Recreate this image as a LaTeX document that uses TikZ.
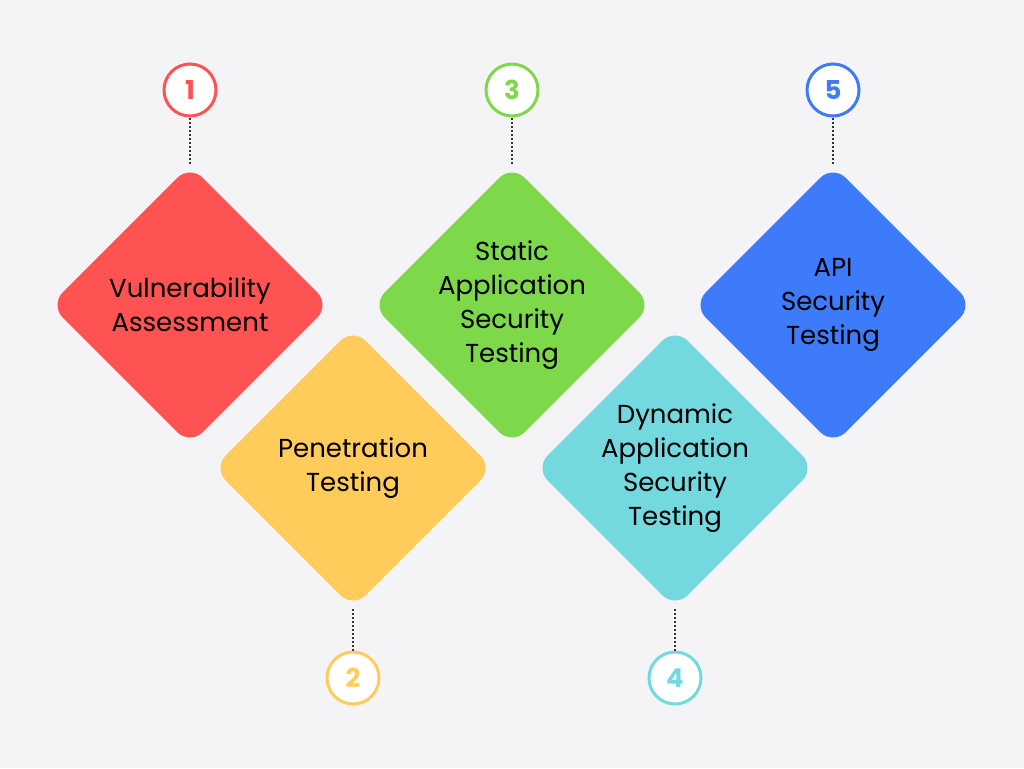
\documentclass[tikz,border=0pt]{standalone}
\usepackage{fontspec}
\setmainfont{Poppins}
\usetikzlibrary{shapes.geometric}
\definecolor{bgc}{HTML}{F4F4F6}
\definecolor{cred}{HTML}{FF5252}
\definecolor{cyel}{HTML}{FFCC5C}
\definecolor{cgrn}{HTML}{7ED94A}
\definecolor{ccyn}{HTML}{73D9DF}
\definecolor{cblu}{HTML}{3D7BFA}
\tikzset{
  tile/.style={diamond, fill=#1, draw=none, inner sep=0pt, minimum width=280pt, minimum height=280pt, rounded corners=18pt},
  label/.style={align=center, font=\fontsize{26}{34}\selectfont, text=black},
  num/.style={circle, draw=#1, line width=3pt, fill=white, minimum size=52pt, inner sep=0pt, text=#1, font=\fontsize{26}{30}\selectfont\bfseries},
  link/.style={dotted, line width=2pt, black!80}
}
\begin{document}
\begin{tikzpicture}[x=1pt,y=-1pt]
\fill [bgc] (0,0) rectangle (1024,768);
\useasboundingbox (0,0) rectangle (1024,768);
% tiles
\node [tile=cred] (va) at (190,305) {};
\node [tile=cyel] (pt) at (353,468) {};
\node [tile=cgrn] (sa) at (512,305) {};
\node [tile=ccyn] (da) at (675,468) {};
\node [tile=cblu] (api) at (833,305) {};
\node [label] (la) at (va) {Vulnerability\\Assessment};
\node [label] (lb) at (pt) {Penetration\\Testing};
\node [label] (lc) at (sa) {Static\\Application\\Security\\Testing};
\node [label] (ld) at (da) {Dynamic\\Application\\Security\\Testing};
\node [label] (le) at (api) {API\\Security\\Testing};
% numbers
\node [num=cred] (n1) at (190,90) {1};
\node [num=cyel] (n2) at (353,678) {2};
\node [num=cgrn] (n3) at (512,90) {3};
\node [num=ccyn] (n4) at (675,678) {4};
\node [num=cblu] (n5) at (833,90) {5};
\draw [link] (n1) -- (va.north);
\draw [link] (n2) -- (pt.south);
\draw [link] (n3) -- (sa.north);
\draw [link] (n4) -- (da.south);
\draw [link] (n5) -- (api.north);
\end{tikzpicture}
\end{document}
